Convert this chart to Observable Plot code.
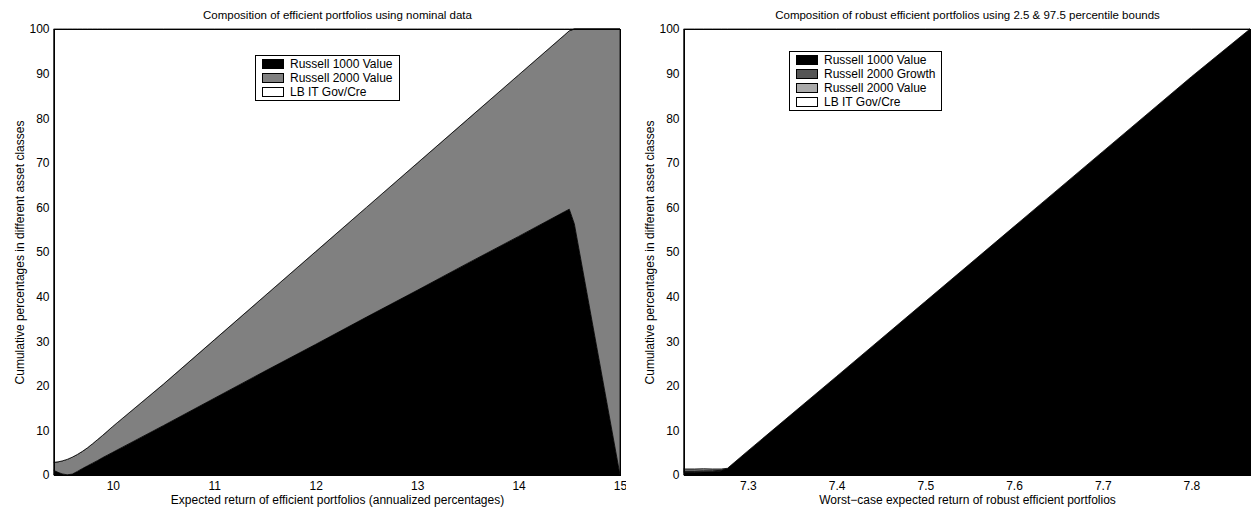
<!DOCTYPE html>
<html>
<head>
<meta charset="utf-8">
<script src="https://cdn.jsdelivr.net/npm/d3@7"></script>
<script src="https://cdn.jsdelivr.net/npm/@observablehq/plot@0.6"></script>
<style>
  html, body { margin: 0; padding: 0; background: #fff; }
  #wrap { position: relative; width: 1252px; height: 510px; font-family: "Liberation Sans", Arial, sans-serif; }
  .panel { position: absolute; top: 0; }
  .legend { position: absolute; border: 1px solid #000; background: #fff; font-size: 12px; padding: 1px 6px 1px 6px; line-height: 14px; }
  .legend div { display: flex; align-items: center; white-space: nowrap; }
  .legend span.sw { display: inline-block; width: 20px; height: 8px; border: 1px solid #000; margin-right: 6px; }
</style>
</head>
<body>
<div id="wrap"></div>
<script>
// ---------- Left panel: nominal data ----------
const leftTitle = "Composition of efficient portfolios using nominal data";
const leftXLabel = "Expected return of efficient portfolios (annualized percentages)";
const yLabel = "Cumulative percentages in different asset classes";
const leftSeries = ["Russell 1000 Value", "Russell 2000 Value", "LB IT Gov/Cre"];
const leftColors = ["#000000", "#808080", "#ffffff"];
const leftReturns = [9.42, 9.46, 9.5, 9.55, 9.6, 9.65, 9.7, 9.75, 9.8, 9.85, 9.9, 9.95, 10.0, 10.05, 10.1, 10.5, 11, 11.5, 12, 12.5, 13, 13.5, 14, 14.45, 14.5, 14.55, 15];
const leftR1000V = [1.0, 0.6, 0.25, 0.05, 0.2, 0.8, 1.45, 2.05, 2.65, 3.25, 3.9, 4.5, 5.1, 5.7, 6.3, 11.1, 17.2, 23.3, 29.3, 35.4, 41.4, 47.5, 53.5, 59.0, 59.6, 56.3, 0];
const leftR2000V = [1.85, 2.35, 2.9, 3.45, 3.8, 3.8, 3.85, 4.05, 4.35, 4.7, 5.0, 5.4, 5.8, 6.15, 6.5, 9.3, 13.1, 16.9, 20.8, 24.6, 28.5, 32.3, 36.2, 39.6, 40.0, 43.7, 100];
const leftLBIT   = [97.15, 97.05, 96.85, 96.5, 96.0, 95.4, 94.7, 93.9, 93.0, 92.05, 91.1, 90.1, 89.1, 88.15, 87.2, 79.6, 69.7, 59.8, 49.9, 40.0, 30.1, 20.2, 10.3, 1.4, 0.4, 0, 0];
const leftXTicks = [10, 11, 12, 13, 14, 15];

// ---------- Right panel: robust ----------
const rightTitle = "Composition of robust efficient portfolios using 2.5 & 97.5 percentile bounds";
const rightXLabel = "Worst\u2212case expected return of robust efficient portfolios";
const rightSeries = ["Russell 1000 Value", "Russell 2000 Growth", "Russell 2000 Value", "LB IT Gov/Cre"];
const rightColors = ["#000000", "#555555", "#aaaaaa", "#ffffff"];
const rightReturns = [7.228, 7.24, 7.25, 7.26, 7.27, 7.277, 7.3, 7.4, 7.5, 7.6, 7.7, 7.8, 7.866];
const rightR1000V = [0.6, 0.6, 0.65, 0.7, 0.9, 1.5, 5.4, 22.1, 38.9, 55.7, 72.5, 89.3, 100];
const rightR2000G = [0.3, 0.3, 0.3, 0.25, 0.15, 0, 0, 0, 0, 0, 0, 0, 0];
const rightR2000V = [0.45, 0.45, 0.45, 0.4, 0.3, 0, 0, 0, 0, 0, 0, 0, 0];
const rightLBIT   = [98.65, 98.65, 98.6, 98.65, 98.65, 98.5, 94.6, 77.9, 61.1, 44.3, 27.5, 10.7, 0];
const rightXTicks = [7.3, 7.4, 7.5, 7.6, 7.7, 7.8];

const yTicks = [0, 10, 20, 30, 40, 50, 60, 70, 80, 90, 100];

function rows(xs, series, arrays) {
  const out = [];
  series.forEach((s, k) => xs.forEach((x, i) => out.push({x, series: s, v: arrays[k][i]})));
  return out;
}

function panel({data, series, colors, xDomain, xTicks, title, xLabel, marginLeft, marginRight}) {
  return Plot.plot({
    width: 626, height: 510,
    marginLeft, marginRight, marginTop: 29, marginBottom: 35,
    style: {fontFamily: '"Liberation Sans", Arial, sans-serif', fontSize: "12px", color: "#000", background: "#fff", overflow: "visible"},
    x: {domain: xDomain},
    y: {domain: [0, 100]},
    color: {domain: series, range: colors},
    marks: [
      Plot.areaY(data, {x: "x", y: "v", fill: "series", z: "series", order: series, stroke: "#000", strokeWidth: 0.8, curve: "linear"}),
      Plot.frame({stroke: "#000", strokeWidth: 1}),
      Plot.axisX({ticks: xTicks, tickSize: 0, tickPadding: 6, tickFormat: d => String(d), label: xLabel, labelAnchor: "center", labelArrow: "none", labelOffset: 28}),
      Plot.axisY({ticks: yTicks, tickSize: 0, tickPadding: 5, label: yLabel, labelAnchor: "center", labelArrow: "none", labelOffset: 39}),
      Plot.text([title], {frameAnchor: "top", dy: -19, text: d => d, fontSize: 11.5})
    ]
  });
}

const wrap = document.getElementById("wrap");

const p1 = panel({
  data: rows(leftReturns, leftSeries, [leftR1000V, leftR2000V, leftLBIT]),
  series: leftSeries, colors: leftColors,
  xDomain: [9.42, 15], xTicks: leftXTicks,
  title: leftTitle, xLabel: leftXLabel, marginLeft: 54, marginRight: 6
});
const d1 = document.createElement("div"); d1.className = "panel"; d1.style.left = "0px"; d1.appendChild(p1); wrap.appendChild(d1);

const p2 = panel({
  data: rows(rightReturns, rightSeries, [rightR1000V, rightR2000G, rightR2000V, rightLBIT]),
  series: rightSeries, colors: rightColors,
  xDomain: [7.228, 7.866], xTicks: rightXTicks,
  title: rightTitle, xLabel: rightXLabel, marginLeft: 58, marginRight: 2
});
const d2 = document.createElement("div"); d2.className = "panel"; d2.style.left = "626px"; d2.appendChild(p2); wrap.appendChild(d2);

function legend(series, colors, left, top) {
  const L = document.createElement("div");
  L.className = "legend";
  L.style.left = left + "px"; L.style.top = top + "px";
  series.forEach((s, i) => {
    const r = document.createElement("div");
    const sw = document.createElement("span"); sw.className = "sw"; sw.style.background = colors[i];
    r.appendChild(sw); r.appendChild(document.createTextNode(s));
    L.appendChild(r);
  });
  wrap.appendChild(L);
}
legend(leftSeries, leftColors, 255, 55);
legend(rightSeries, rightColors, 789, 51);
</script>
</body>
</html>
